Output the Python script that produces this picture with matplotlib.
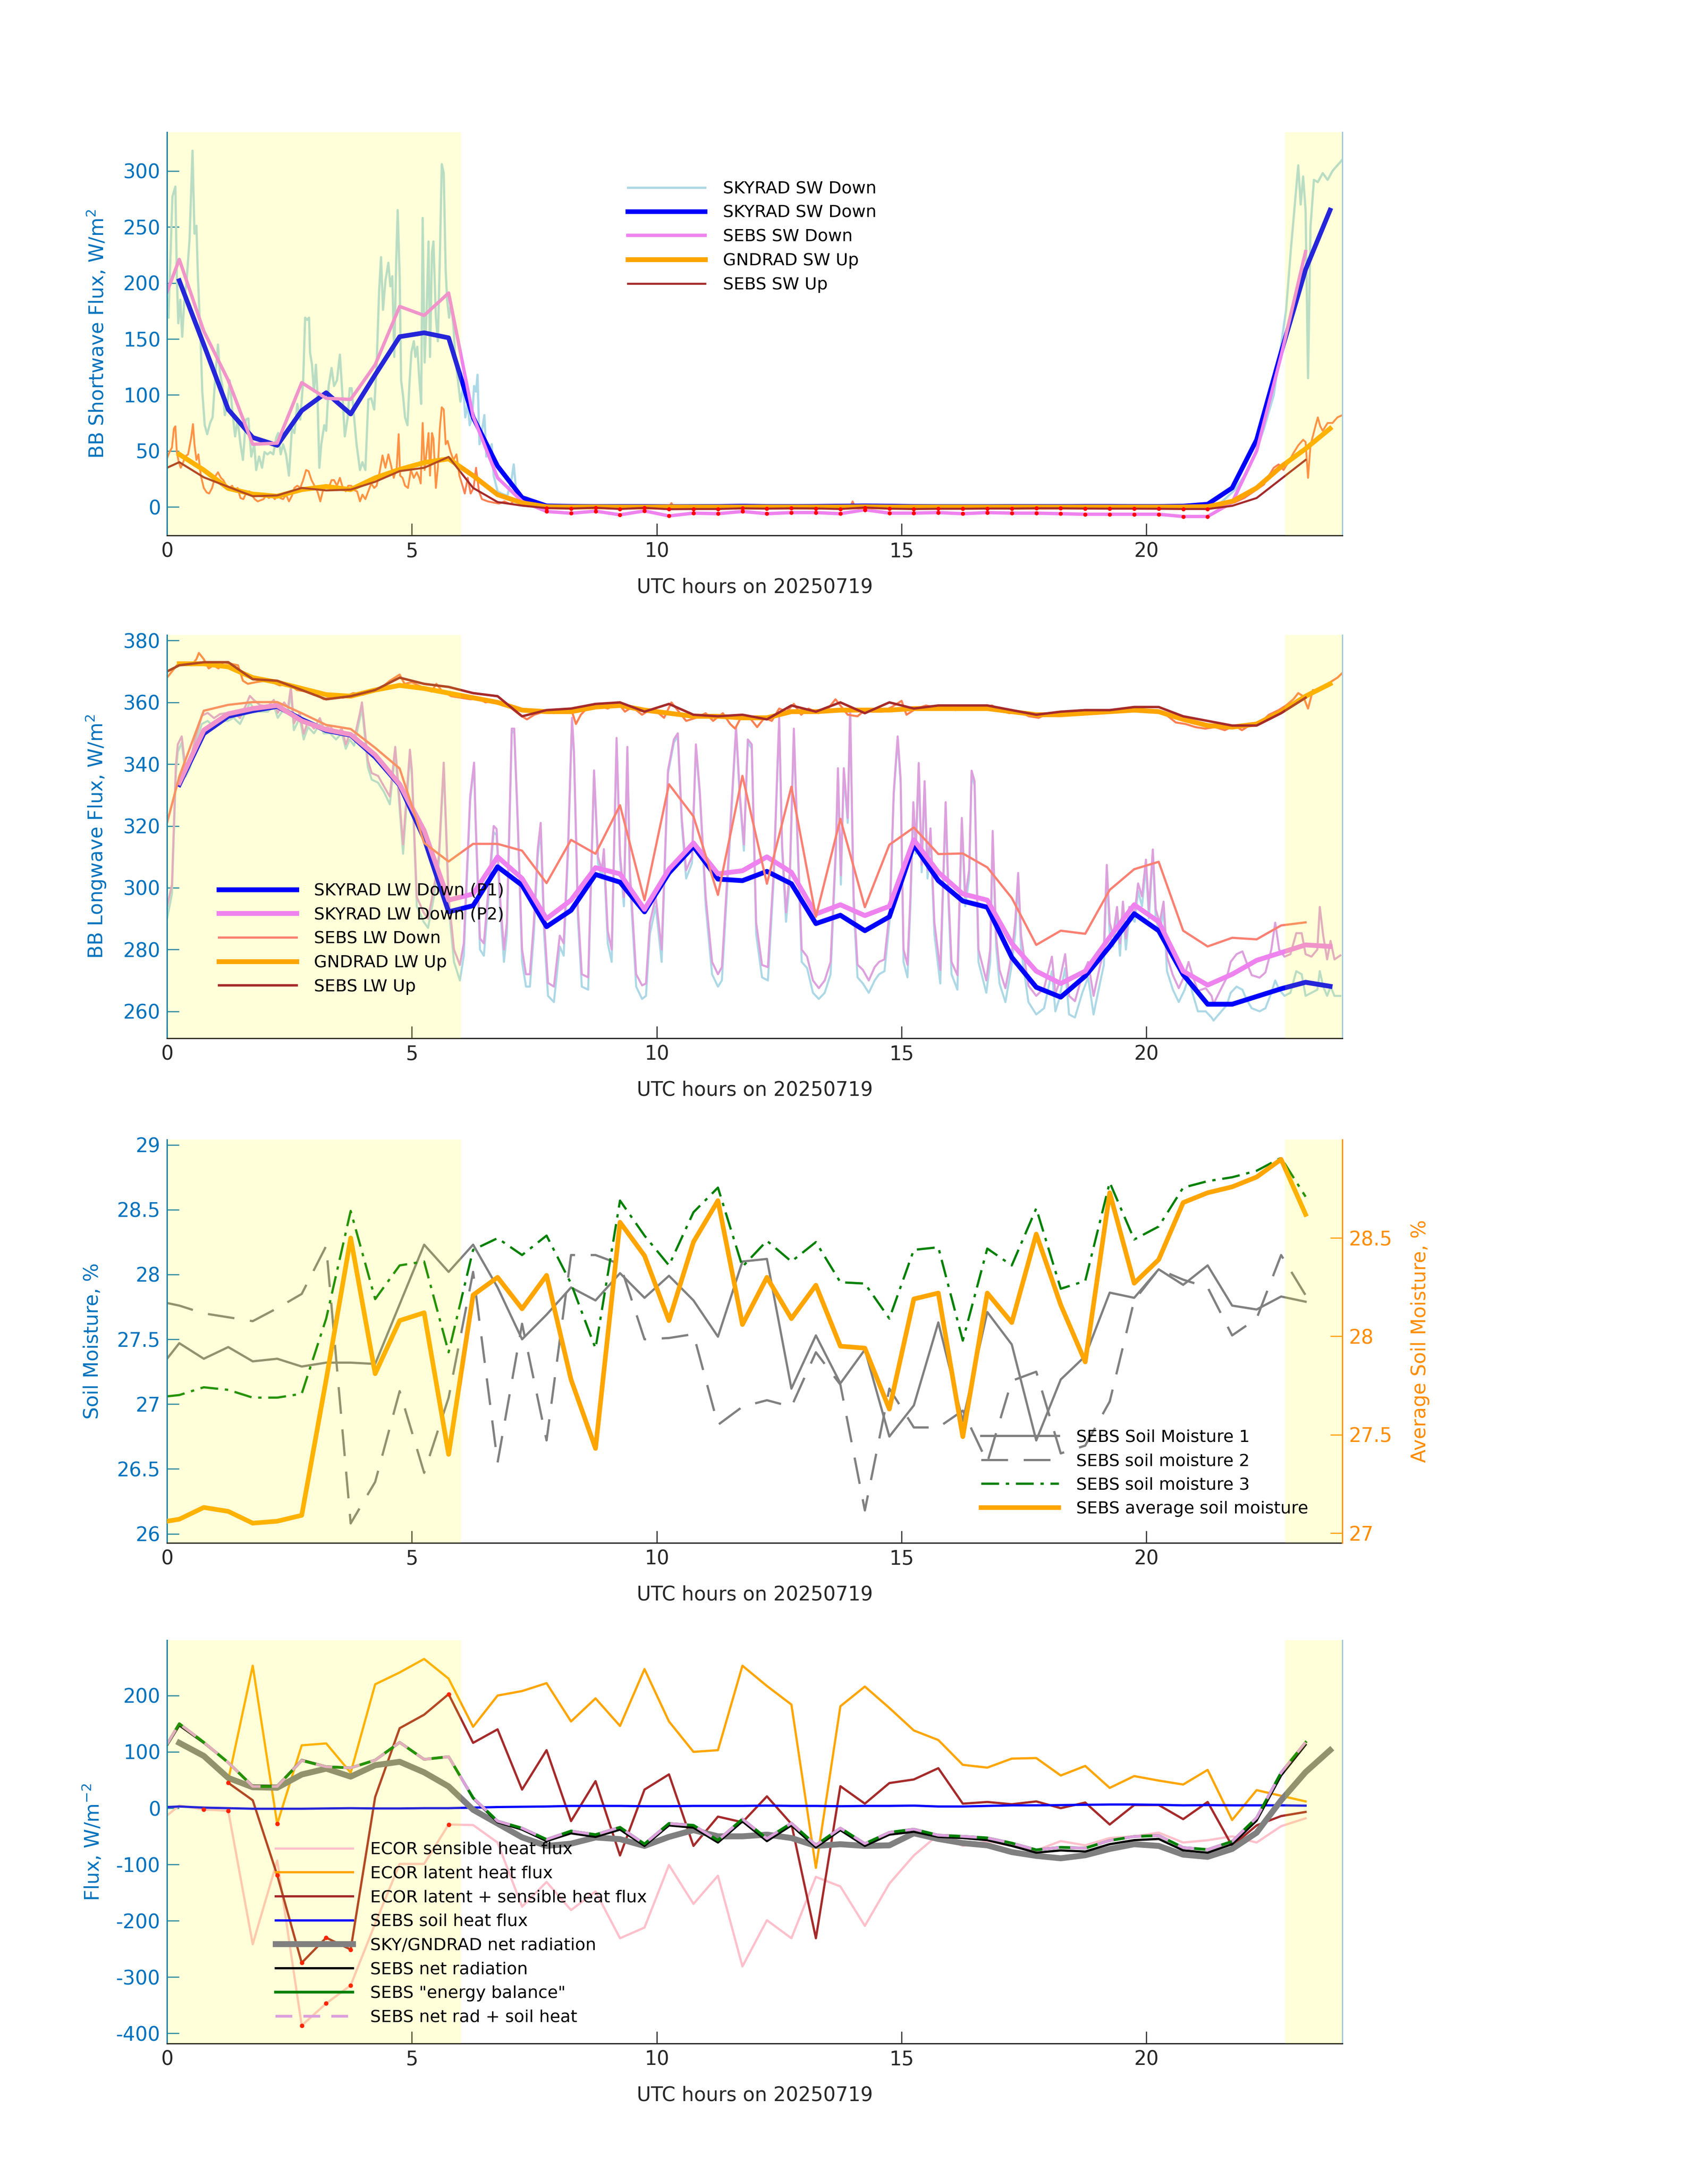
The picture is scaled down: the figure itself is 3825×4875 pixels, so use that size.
import numpy as np
import matplotlib
matplotlib.use('Agg')
import matplotlib.pyplot as plt
from matplotlib.ticker import FuncFormatter

plt.rcParams['font.family'] = ['DejaVu Sans']

# ---------------- time bases ----------------
t30 = [0.25, 0.75, 1.25, 1.75, 2.25, 2.75, 3.25, 3.75, 4.25, 4.75, 5.25, 5.75,
       6.25, 6.75, 7.25, 7.75, 8.25, 8.75, 9.25, 9.75, 10.25, 10.75, 11.25, 11.75,
       12.25, 12.75, 13.25, 13.75, 14.25, 14.75, 15.25, 15.75, 16.25, 16.75, 17.25, 17.75,
       18.25, 18.75, 19.25, 19.75, 20.25, 20.75, 21.25, 21.75, 22.25, 22.75, 23.25, 23.75]
tsebs = [0.0, 0.25, 0.75, 1.25, 1.75, 2.25, 2.75, 3.25, 3.75, 4.25, 4.75, 5.25,
         5.75, 6.25, 6.75, 7.25, 7.75, 8.25, 8.75, 9.25, 9.75, 10.25, 10.75, 11.25,
         11.75, 12.25, 12.75, 13.25, 13.75, 14.25, 14.75, 15.25, 15.75, 16.25, 16.75, 17.25,
         17.75, 18.25, 18.75, 19.25, 19.75, 20.25, 20.75, 21.25, 21.75, 22.25, 22.75, 23.25]
night_spans = [(0.0, 6.0), (22.83, 24.0)]

# ---------------- panel 1: shortwave ----------------
skyrad_sw_dn_1min = [
    (0.00, 185), (0.03, 169), (0.05, 197), (0.11, 277), (0.17, 286), (0.20, 206), (0.23, 164),
    (0.27, 185), (0.31, 152), (0.35, 183), (0.40, 202), (0.46, 239), (0.52, 318), (0.56, 244),
    (0.60, 251), (0.63, 206), (0.68, 155), (0.72, 103), (0.77, 73), (0.82, 65), (0.88, 75),
    (0.93, 80), (0.98, 113), (1.04, 145), (1.08, 120), (1.13, 108), (1.18, 82), (1.24, 94),
    (1.28, 113), (1.33, 87), (1.39, 63), (1.44, 78), (1.50, 56), (1.55, 42), (1.61, 78),
    (1.66, 79), (1.72, 45), (1.78, 56), (1.82, 33), (1.88, 45), (1.94, 35), (1.99, 49),
    (2.05, 47), (2.11, 49), (2.17, 47), (2.23, 62), (2.27, 66), (2.32, 47), (2.37, 56),
    (2.43, 47), (2.49, 28), (2.55, 70), (2.60, 66), (2.66, 92), (2.72, 78), (2.78, 113),
    (2.82, 169), (2.86, 167), (2.90, 169), (2.92, 138), (2.96, 127), (3.00, 103), (3.04, 127),
    (3.07, 103), (3.11, 35), (3.15, 56), (3.21, 73), (3.25, 68), (3.30, 108), (3.36, 124),
    (3.41, 108), (3.47, 113), (3.53, 136), (3.58, 101), (3.63, 63), (3.69, 80), (3.73, 106),
    (3.77, 106), (3.81, 85), (3.87, 56), (3.94, 33), (3.99, 40), (4.05, 33), (4.11, 96),
    (4.17, 97), (4.23, 87), (4.28, 127), (4.33, 192), (4.37, 223), (4.41, 176), (4.46, 202),
    (4.52, 218), (4.56, 197), (4.60, 206), (4.64, 134), (4.68, 220), (4.71, 265), (4.75, 206),
    (4.78, 113), (4.82, 99), (4.86, 80), (4.91, 73), (4.95, 110), (4.99, 138), (5.04, 148),
    (5.07, 134), (5.11, 143), (5.15, 115), (5.19, 92), (5.22, 258), (5.26, 129), (5.30, 174),
    (5.34, 237), (5.37, 134), (5.41, 227), (5.44, 237), (5.49, 169), (5.53, 148), (5.57, 220),
    (5.61, 306), (5.65, 298), (5.69, 211), (5.72, 185), (5.76, 169), (5.80, 183), (5.85, 160),
    (5.89, 131), (5.94, 113), (5.99, 94), (6.05, 108), (6.09, 80), (6.14, 92), (6.18, 73),
    (6.23, 80), (6.27, 108), (6.31, 103), (6.34, 118), (6.38, 56), (6.43, 68), (6.48, 82),
    (6.52, 45), (6.58, 49), (6.63, 56), (6.67, 28), (6.75, 14), (6.83, 12), (6.95, 10),
    (7.04, 26), (7.08, 38), (7.13, 14), (7.21, 5), (7.36, 2), (7.65, 1), (8.0, 0.6),
    (10.0, 0.5), (12.0, 0.5), (13.95, 0.5), (14.0, 1.5), (14.05, 0.5), (16.0, 0.4), (18.0, 0.5),
    (20.0, 0.5), (21.0, 0.8), (21.5, 3), (21.8, 15), (22.0, 28), (22.2, 45), (22.4, 70),
    (22.6, 100), (22.7, 130), (22.85, 175), (22.95, 230), (23.05, 280), (23.1, 305), (23.15, 270),
    (23.2, 295), (23.25, 265), (23.3, 115), (23.35, 250), (23.42, 292), (23.5, 290), (23.6, 298),
    (23.7, 292), (23.8, 300), (23.9, 305), (24.0, 310)]

gndrad_sw_up_1min = [
    (0.0, 43.6), (0.05, 49), (0.10, 53), (0.14, 70), (0.17, 72), (0.20, 49), (0.24, 40),
    (0.28, 35), (0.33, 40), (0.37, 45), (0.43, 47), (0.49, 61), (0.53, 74), (0.56, 56),
    (0.60, 42), (0.64, 47), (0.69, 28), (0.75, 17), (0.81, 13), (0.86, 12), (0.92, 17),
    (0.98, 27), (1.04, 31), (1.10, 26), (1.15, 24), (1.21, 19), (1.27, 17), (1.33, 19),
    (1.39, 14), (1.44, 17), (1.50, 8), (1.56, 7), (1.62, 13), (1.68, 14), (1.73, 11),
    (1.79, 7), (1.85, 5), (1.91, 6), (1.97, 7), (2.02, 10), (2.08, 8), (2.14, 10), (2.20, 7),
    (2.26, 11), (2.31, 8), (2.37, 7), (2.43, 11), (2.49, 5), (2.55, 10), (2.60, 17), (2.66, 19),
    (2.72, 17), (2.78, 24), (2.84, 33), (2.89, 32), (2.95, 24), (3.01, 19), (3.07, 14),
    (3.13, 5), (3.18, 14), (3.24, 19), (3.30, 17), (3.36, 24), (3.41, 24), (3.47, 19),
    (3.53, 26), (3.59, 17), (3.65, 14), (3.70, 19), (3.76, 19), (3.82, 15), (3.88, 14),
    (3.94, 5), (3.99, 11), (4.05, 7), (4.11, 14), (4.17, 21), (4.23, 17), (4.28, 19),
    (4.34, 31), (4.40, 46), (4.46, 35), (4.52, 47), (4.57, 38), (4.63, 26), (4.69, 35),
    (4.73, 65), (4.76, 28), (4.81, 26), (4.86, 19), (4.92, 17), (4.98, 33), (5.04, 26),
    (5.10, 31), (5.15, 26), (5.18, 21), (5.22, 75), (5.26, 33), (5.30, 49), (5.34, 66),
    (5.37, 28), (5.41, 66), (5.44, 61), (5.49, 17), (5.53, 35), (5.57, 70), (5.61, 89),
    (5.65, 87), (5.69, 56), (5.73, 59), (5.79, 49), (5.85, 42), (5.91, 47), (5.97, 28),
    (6.02, 21), (6.08, 12), (6.14, 26), (6.20, 12), (6.26, 17), (6.31, 35), (6.37, 14),
    (6.43, 7), (6.55, 5), (6.66, 4), (6.78, 3), (6.89, 5), (7.01, 2.6), (7.13, 7), (7.24, 2),
    (7.47, 1), (7.70, 0.2), (10.25, 0), (10.3, 3.5), (10.35, 0), (13.95, 0), (14.0, 5),
    (14.05, 0), (21.0, 0), (21.5, 1), (21.8, 4), (22.0, 8), (22.2, 14), (22.4, 20), (22.5, 28),
    (22.6, 35), (22.7, 38), (22.8, 33), (22.9, 40), (23.0, 48), (23.1, 55), (23.2, 60),
    (23.25, 58), (23.3, 26), (23.35, 55), (23.45, 72), (23.5, 80), (23.55, 72), (23.6, 68),
    (23.7, 75), (23.8, 75), (23.9, 80), (24.0, 82)]

skyrad_sw_dn = [202, 145, 87, 62, 55, 86, 102, 83, 118, 152, 155.5, 151,
                80, 36.5, 8.4, 1, 0.6, 0.5, 0.5, 0.5, 0.4, 0.4, 0.5, 0.8,
                0.5, 0.5, 0.6, 0.8, 1.0, 0.8, 0.5, 0.4, 0.4, 0.4, 0.5, 0.5,
                0.5, 0.6, 0.6, 0.5, 0.5, 0.8, 2.5, 17, 60, 138, 212, 265]
sebs_sw_dn = [192, 221, 157, 113, 56, 57, 111, 97, 96, 127, 179, 171,
              191, 81, 26, 5, -4, -5.6, -3.7, -7, -3.5, -8, -5.5, -6,
              -4, -6, -5, -5, -6, -2.5, -5.5, -5.5, -5, -6, -5, -5.5,
              -5.5, -6, -6.5, -6.5, -6.5, -6.5, -8.5, -8.5, 4, 50, 135, 228]
gndrad_sw_up = [47, 33, 16.6, 11.5, 9.6, 15.5, 18.3, 15.5, 26, 33.5, 39.6, 43,
                28, 11, 3.7, 0.2, 0, 0.1, 0, 0, 0.1, 0, 0, 0,
                0, 0, 0, 0, 0.2, 0, 0, 0, 0, 0, 0, 0,
                0, 0, 0, 0, 0, 0, 0.3, 5, 17, 36, 52, 70]
sebs_sw_up = [35, 40, 26.5, 18, 9.6, 10.3, 17, 14.8, 15.5, 22.5, 32, 35,
              44.7, 17, 4.4, 1.2, -1, -1.4, -0.7, -1.8, -0.8, -2, -1.8, -1.8,
              -1.2, -1.5, -1.2, -1.3, -1.8, -0.5, -1.5, -1.8, -1.6, -1.6, -1.4, -1.4,
              -1.2, -1.2, -1.4, -1.5, -1.5, -1.6, -1.8, -1.8, 1, 8, 25, 42]

# ---------------- panel 2: longwave ----------------
lw_1min_t = [
    0.00, 0.10, 0.18, 0.22, 0.30, 0.38, 0.47, 0.59, 0.71, 0.83, 0.96, 1.08, 1.24, 1.36, 1.49,
    1.61, 1.69, 1.77, 1.90, 2.06, 2.18, 2.26, 2.39, 2.47, 2.53, 2.59, 2.71, 2.79, 2.88, 3.00,
    3.12, 3.20, 3.33, 3.45, 3.57, 3.65, 3.73, 3.82, 3.94, 3.98, 4.02, 4.10, 4.18, 4.31, 4.43,
    4.55, 4.66, 4.82, 4.96, 5.00, 5.10, 5.24, 5.33, 5.45, 5.55, 5.65, 5.70, 5.75, 5.86, 5.98,
    6.06, 6.19, 6.27, 6.30, 6.39, 6.47, 6.55, 6.67, 6.73, 6.80, 6.88, 6.94, 7.04, 7.09, 7.16,
    7.25, 7.33, 7.41, 7.49, 7.57, 7.63, 7.70, 7.78, 7.90, 8.02, 8.10, 8.19, 8.27, 8.31, 8.39,
    8.47, 8.60, 8.72, 8.80, 8.88, 8.92, 9.00, 9.08, 9.18, 9.25, 9.33, 9.40, 9.45, 9.58, 9.70,
    9.78, 9.86, 9.98, 10.10, 10.23, 10.35, 10.43, 10.51, 10.60, 10.72, 10.80, 10.88, 11.00, 11.13, 11.25,
    11.33, 11.45, 11.62, 11.70, 11.78, 11.86, 11.94, 12.03, 12.15, 12.27, 12.39, 12.50, 12.56, 12.64, 12.72,
    12.80, 12.86, 12.96, 13.07, 13.19, 13.31, 13.43, 13.55, 13.66, 13.70, 13.76, 13.82, 13.90, 13.95, 14.02,
    14.10, 14.21, 14.33, 14.45, 14.54, 14.65, 14.76, 14.84, 14.92, 14.98, 15.04, 15.12, 15.18, 15.24, 15.29,
    15.35, 15.41, 15.47, 15.53, 15.59, 15.67, 15.79, 15.90, 15.96, 16.02, 16.14, 16.23, 16.30, 16.38, 16.43,
    16.49, 16.57, 16.73, 16.81, 16.86, 16.93, 17.00, 17.12, 17.24, 17.32, 17.38, 17.44, 17.59, 17.75, 17.91,
    18.07, 18.14, 18.22, 18.34, 18.42, 18.54, 18.69, 18.81, 18.92, 19.01, 19.13, 19.19, 19.25, 19.32, 19.40,
    19.46, 19.52, 19.58, 19.65, 19.76, 19.83, 19.91, 19.99, 20.05, 20.13, 20.19, 20.27, 20.35, 20.42, 20.54,
    20.66, 20.78, 20.86, 20.94, 21.05, 21.21, 21.33, 21.37, 21.53, 21.64, 21.72, 21.84, 21.96, 22.04, 22.15,
    22.31, 22.43, 22.55, 22.63, 22.71, 22.82, 22.94, 23.06, 23.17, 23.25, 23.37, 23.49, 23.54, 23.61, 23.69,
    23.76, 23.84, 23.96]
skyrad_lw_p2_1min = [
    293.8, 301, 339.6, 346.4, 349, 338, 341.3, 349, 355.7, 356.6, 354.9, 356.2, 356.6, 357, 354.9,
    359.1, 362.1, 360.8, 359.1, 358.7, 360.8, 356.6, 360, 358.3, 365, 353.2, 356.6, 349.8, 354, 351.5,
    354.9, 351.5, 352.3, 349.8, 351.5, 346.4, 349.8, 348.1, 356.6, 360, 354, 341.3, 337.1, 336.2, 332.8,
    329.5, 345.6, 314, 344.7, 338, 297, 292, 290, 300, 310, 340.5, 319, 297, 280, 275,
    282, 329.5, 340.5, 322.7, 283.6, 282, 297, 320, 319, 297, 280, 288.7, 351.5, 351.5, 322.7,
    280, 272, 272, 288.7, 312.5, 321, 288.7, 269.2, 268, 284.5, 282, 314, 355, 344, 293,
    272, 271, 338, 310, 305.7, 312.5, 286, 280, 348.5, 311, 297, 345.6, 305.7, 272, 268.4,
    269, 288.7, 297, 280, 338, 348, 350, 322.7, 305.7, 310, 346.4, 331, 297, 276, 272,
    274.3, 305.7, 352, 329.5, 314, 348, 346.4, 288.7, 275, 274.3, 305.7, 355, 314, 292, 305.7,
    351.5, 322.6, 280, 277.7, 270, 267.5, 270, 276, 314, 338.7, 304, 338.7, 322.6, 358.3, 297,
    275.1, 273.4, 270, 274.3, 276, 276.8, 293, 331, 349, 335.4, 280, 275.1, 297, 327.7, 313.3,
    340.4, 307.4, 334.5, 305.7, 319.2, 288.7, 273.4, 327.7, 297, 276, 271.7, 322.6, 297, 305.7, 337.9,
    334.5, 280, 270, 280, 318.4, 284.5, 273.4, 267.5, 277.7, 288.7, 304.8, 284.5, 268.3, 265, 267.5,
    277.7, 265.8, 269.2, 278.5, 265, 263.3, 271.7, 276, 265, 271.7, 280, 307.4, 288.7, 284.5, 293.8,
    282, 295.5, 283.6, 293.8, 292, 301.4, 297.2, 309.1, 293, 312.4, 293, 288.7, 295.5, 277.7, 271.7,
    267.5, 271.7, 276, 271.7, 266.6, 267.5, 265, 262.4, 267.5, 270.9, 276, 278.5, 279.4, 276, 271.7,
    270.9, 272.6, 280, 288.7, 280, 277.7, 278.5, 285.3, 285.3, 278.5, 277.7, 280, 293.8, 284.5, 276.8,
    282.8, 276.8, 278.1]
skyrad_lw_p1_1min = [
    290, 298, 337, 344, 347, 336, 339, 347, 353, 354, 352, 354, 354, 355, 353,
    357, 360, 358, 357, 357, 359, 355, 358, 357, 363, 351, 355, 348, 352, 350,
    353, 350, 350, 348, 350, 345, 348, 346, 355, 358, 352, 339, 335, 334, 331,
    327, 344, 311, 343, 336, 294, 289, 287, 297, 308, 339, 317, 294, 276, 270,
    278, 328, 340, 321, 280, 278, 294, 318, 317, 294, 276, 285, 351, 350, 321,
    276, 268, 268, 285, 310, 319, 285, 265, 263, 281, 278, 312, 354, 343, 290,
    268, 267, 337, 308, 303, 310, 282, 276, 347, 309, 294, 344, 303, 268, 264,
    265, 285, 294, 276, 337, 347, 349, 321, 303, 308, 345, 330, 294, 272, 268,
    270, 303, 351, 328, 312, 347, 345, 285, 271, 270, 303, 354, 312, 289, 303,
    350, 321, 276, 274, 266, 264, 266, 272, 312, 337, 301, 337, 321, 357, 294,
    271, 269, 266, 270, 272, 273, 290, 330, 348, 334, 276, 271, 294, 326, 311,
    339, 305, 333, 303, 317, 285, 269, 326, 294, 272, 267, 321, 294, 303, 337,
    333, 276, 266, 276, 316, 281, 269, 263, 274, 285, 302, 280, 263, 259, 261,
    273, 260, 264, 274, 259, 258, 266, 271, 259, 266, 275, 305, 285, 281, 291,
    278, 293, 280, 291, 289, 299, 294, 307, 290, 311, 290, 285, 293, 273, 267,
    263, 267, 271, 266, 260, 260, 258, 257, 260, 262, 266, 268, 267, 264, 261,
    260, 261, 266, 270, 267, 265, 266, 273, 272, 265, 266, 267, 273, 268, 265,
    268, 265, 265]

gndrad_lw_up_1min = [
    (0.0, 368), (0.1, 370), (0.2, 372), (0.35, 373), (0.5, 372), (0.6, 374), (0.65, 376),
    (0.75, 374), (0.85, 371), (0.95, 372), (1.05, 371), (1.15, 373), (1.3, 372.5), (1.45, 372),
    (1.55, 367), (1.65, 366), (1.8, 366.5), (2.0, 367), (2.15, 366.5), (2.3, 365.5), (2.5, 366),
    (2.65, 364), (2.85, 363.5), (3.0, 363), (3.2, 361), (3.4, 362), (3.6, 361.5), (3.8, 363),
    (4.0, 362.5), (4.2, 363.5), (4.4, 365), (4.55, 367), (4.65, 368), (4.75, 369), (4.85, 366),
    (5.0, 366.5), (5.2, 365), (5.4, 363.5), (5.5, 366), (5.6, 364), (5.8, 362), (6.0, 361.5),
    (6.2, 361), (6.35, 361.5), (6.5, 360), (6.7, 360.5), (6.85, 359), (7.0, 358.5), (7.2, 356),
    (7.35, 354.5), (7.5, 356), (7.7, 357), (7.9, 356.5), (8.1, 357.5), (8.25, 358), (8.35, 353),
    (8.45, 356), (8.6, 358.5), (8.8, 359), (9.0, 358), (9.2, 360), (9.35, 357), (9.5, 358.5),
    (9.7, 356), (9.85, 357.5), (10.0, 357), (10.15, 355), (10.3, 360), (10.45, 357), (10.6, 354),
    (10.8, 355), (11.0, 356.5), (11.15, 354), (11.35, 356.5), (11.5, 353), (11.6, 351.5),
    (11.75, 356), (11.9, 355), (12.05, 352), (12.2, 355), (12.35, 354), (12.5, 358), (12.65, 357),
    (12.8, 359.5), (12.95, 356), (13.1, 358), (13.3, 356.5), (13.5, 358), (13.65, 361),
    (13.75, 359), (13.9, 356), (14.1, 355.5), (14.25, 357.5), (14.4, 357), (14.6, 357),
    (14.8, 358.5), (14.9, 359.5), (15.0, 360.5), (15.1, 356), (15.3, 358), (15.5, 359),
    (15.75, 358), (15.9, 359), (16.1, 357.5), (16.3, 358.5), (16.5, 358), (16.7, 358.5),
    (16.85, 359), (17.0, 357.5), (17.2, 356.5), (17.4, 357), (17.6, 355.5), (17.8, 355),
    (18.0, 356.5), (18.2, 355.5), (18.4, 356), (18.6, 356.5), (18.8, 357.5), (19.0, 356.5),
    (19.2, 357.5), (19.4, 357), (19.6, 357.5), (19.8, 358), (20.0, 357), (20.2, 357.5),
    (20.4, 356), (20.6, 353.5), (20.8, 353), (21.0, 352), (21.2, 351.5), (21.4, 352), (21.6, 351),
    (21.8, 352.5), (21.95, 351), (22.1, 352.5), (22.3, 353), (22.5, 356), (22.7, 357.5),
    (22.85, 359), (23.0, 361), (23.1, 363), (23.2, 362), (23.3, 358), (23.4, 364), (23.5, 363.5),
    (23.6, 365), (23.7, 366), (23.8, 367), (23.9, 368), (24.0, 369.5)]

skyrad_lw_p1 = [333.4, 349.9, 355.5, 357.3, 358.7, 354.5, 350.9, 349.4, 342.3, 333.2, 316, 292.2,
                294.2, 306.8, 300.8, 287.4, 292.7, 304.3, 301.8, 292.2, 304.8, 313.4, 302.8, 302.3,
                305.3, 301.3, 288.4, 291.1, 286.1, 290.6, 313.9, 302.3, 295.7, 293.7, 277.5, 267.8,
                264.6, 271.4, 281, 291.6, 286.1, 271.9, 262.3, 262.3, 264.8, 267.3, 269.4, 268.1]
skyrad_lw_p2 = [334, 351, 356.3, 358, 359, 354, 351.2, 349.6, 343, 333.5, 318.5, 296,
                298, 310, 303, 290, 296, 306.5, 304.5, 293, 306, 314.5, 304.5, 305.5,
                310, 305, 291.5, 294.5, 291, 294, 315.5, 305, 298, 296, 282, 273,
                269, 273, 284, 294.5, 289, 273, 268.5, 272, 276.5, 279, 281.5, 281]
sebs_lw_dn = [321, 336, 357.3, 359.2, 360.1, 360.1, 356.5, 352.7, 351.4, 345.3, 338.6, 314.5,
              308.5, 314.2, 314.2, 312, 301.5, 315.5, 311, 326.7, 296, 333.5, 323.1, 297.7,
              336.2, 301.3, 332.7, 290.6, 322.3, 293.7, 313.9, 319.5, 310.9, 311.1, 306.6, 296.7,
              281.5, 286.1, 285.1, 299.3, 306, 308.4, 286.1, 281, 283.8, 283.3, 287.8, 288.8]
gndrad_lw_up = [372.5, 372.5, 371.5, 368, 366.5, 364.5, 362.5, 362, 364, 365.5, 364.5, 363,
                361.5, 360, 357.5, 357, 357, 358.5, 359, 357.5, 356.5, 355.5, 355.5, 355,
                355, 357, 357, 357.5, 357.5, 357.5, 358, 358, 358, 358, 357, 356,
                356, 356.5, 357, 357.5, 357, 354.5, 352.5, 352, 353, 357, 362, 366]
sebs_lw_up = [370, 372, 373, 373, 367.5, 367, 364, 361, 362, 364, 368, 366,
              365, 363, 362, 355.5, 357.5, 358, 359.5, 360, 357, 359.5, 356, 355.5,
              356, 354.5, 359, 357, 360, 356.5, 360, 358, 359, 359, 359, 357.5,
              356, 357, 357.5, 357.5, 358.5, 358.5, 355.5, 354, 352.5, 352.5, 356.5, 361.5]

# ---------------- panel 3: soil moisture ----------------
soil_m1 = [27.35, 27.47, 27.35, 27.44, 27.33, 27.35, 27.29, 27.32, 27.32, 27.31, 27.77, 28.23,
           28.02, 28.23, 27.9, 27.5, 27.69, 27.9, 27.8, 28.01, 27.82, 27.99, 27.8, 27.52,
           28.1, 28.12, 27.12, 27.53, 27.16, 27.42, 26.75, 26.99, 27.63, 26.87, 27.71, 27.46,
           26.72, 27.19, 27.37, 27.86, 27.82, 28.04, 27.92, 28.07, 27.76, 27.73, 27.83, 27.79]
soil_m2 = [27.78, 27.76, 27.7, 27.67, 27.64, 27.74, 27.85, 28.22, 26.08, 26.4, 27.1, 26.47,
           27.05, 28.02, 26.55, 27.62, 26.72, 28.15, 28.15, 28.08, 27.5, 27.51, 27.54, 26.84,
           26.98, 27.03, 26.98, 27.4, 27.15, 26.18, 27.12, 26.82, 26.82, 26.95, 26.55, 27.18,
           27.25, 26.62, 26.68, 27.02, 27.8, 28.04, 27.96, 27.9, 27.53, 27.66, 28.15, 27.84]
soil_m3 = [27.06, 27.07, 27.13, 27.11, 27.05, 27.05, 27.08, 27.66, 28.49, 27.81, 28.07, 28.1,
           27.4, 28.19, 28.28, 28.15, 28.3, 27.93, 27.43, 28.57, 28.3, 28.07, 28.48, 28.67,
           28.06, 28.26, 28.1, 28.25, 27.94, 27.93, 27.66, 28.19, 28.21, 27.49, 28.2, 28.07,
           28.51, 27.89, 27.95, 28.71, 28.27, 28.37, 28.67, 28.72, 28.75, 28.8, 28.9, 28.6]
soil_avg = [27.06, 27.07, 27.13, 27.11, 27.05, 27.06, 27.09, 27.78, 28.5, 27.81, 28.08, 28.12,
            27.4, 28.21, 28.3, 28.14, 28.31, 27.78, 27.43, 28.58, 28.41, 28.08, 28.48, 28.69,
            28.06, 28.3, 28.09, 28.26, 27.95, 27.94, 27.63, 28.19, 28.22, 27.49, 28.22, 28.07,
            28.52, 28.16, 27.87, 28.73, 28.27, 28.39, 28.68, 28.73, 28.76, 28.81, 28.9, 28.62]

# ---------------- panel 4: surface energy fluxes ----------------
nan = float('nan')
ecor_sensible = [-13, 4.7, -2.4, -4.7, -241.6, -93, -386, -346.7, -314.6, -205, -99, -99,
                 -29, -30, -61, -175, -131, -181, -148, -231, -212, -101, -170, -120,
                 -281, -199, -231, -122, -139, -209, -134, -84, -47, -67, -58.5, -67,
                 -75, -58.5, -66, -53, -50, -43.5, -61, -57, -50, -61, -32, -18]
ecor_latent = [nan, nan, nan, 50, 253, -28, 111.6, 115, 63, 220, 241, 265,
               230, 144.6, 200, 208, 222, 154, 195, 146, 247, 154, 100, 103,
               253, 217, 184, -106, 181, 216, 178, 138, 121, 77, 72, 88,
               89, 58, 75, 36, 57, 49, 42, 68, -21, 32, 22, 12]
ecor_lat_sens = [nan, nan, nan, 45, 14, -119, -274.6, -230, -251, 19.8, 142, 166,
                 202.5, 116, 140, 33, 103, -23, 48, -84, 33, 60, -67, -15,
                 -25, 21, -28, -231, 39, 8, 44.6, 51, 71, 8, 11, 7,
                 12, 0, 10, -29, 5.6, 5.6, -19.5, 11, -67, -30.6, -14, -6.7]
sebs_soil_heat = [2, 3, 1, 0, -1, -1, -1, -0.5, 0, -0.5, -0.5, 0,
                  0, 1, 2, 2.5, 3, 4, 4, 4, 3.5, 3.5, 4, 4,
                  4, 4.5, 4, 4, 3.5, 4, 4, 4.5, 3, 3, 4, 5,
                  5, 5.5, 6, 6.5, 6.5, 6, 5, 5.5, 5, 5, 5, 4.5]
skygnd_net_rad = [116, 92.8, 53.7, 37.2, 36.3, 59.8, 70.2, 56, 76.3, 82.4, 63.6, 38.6,
                  -2.8, -27.3, -51.8, -67, -63, -52, -55, -67, -51, -39, -50, -50,
                  -47, -53, -67, -64, -67, -66, -44.6, -54.6, -62, -66, -78, -84.7,
                  -89, -83.6, -72.4, -64, -67, -82.5, -86.4, -72.4, -43.5, 14, 64, 103]
sebs_net_rad = [111.6, 147, 116, 81, 39.6, 39.6, 85.7, 74, 71.6, 85.7, 117.3, 86.7,
                91.4, 17.4, -25, -38, -58.5, -44.6, -51, -38, -67, -30.6, -34.5, -61,
                -23.4, -58.5, -30.6, -69.6, -39, -67, -47, -41.8, -51, -53, -56.8, -67,
                -79, -75, -77, -64, -56.8, -54.6, -75, -79, -64, -22, 58, 112.5]
sebs_energy_balance = [113.6, 150, 117, 81, 38.6, 38.6, 84.7, 73.5, 71.6, 85.2, 116.8, 86.7,
                       91.4, 18.4, -23, -35.5, -55.5, -40.6, -47, -34, -63.5, -27.1, -30.5, -57,
                       -19.4, -54, -26.6, -65.6, -35.5, -63, -43, -37.3, -48, -50, -52.8, -62,
                       -74, -69.5, -71, -57.5, -50.3, -48.6, -70, -73.5, -59, -17, 63, 117]
sebs_netrad_plus_soil = [113.6, 150, 117, 81, 38.6, 38.6, 84.7, 73.5, 71.6, 85.2, 116.8, 86.7,
                         91.4, 18.4, -23, -35.5, -55.5, -40.6, -47, -34, -63.5, -27.1, -30.5, -57,
                         -19.4, -54, -26.6, -65.6, -35.5, -63, -43, -37.3, -48, -50, -52.8, -62,
                         -74, -69.5, -71, -57.5, -50.3, -48.6, -70, -73.5, -59, -17, 63, 117]
sens_flag_t = [0.75, 1.25, 2.75, 3.25, 3.75, 5.75]
lat_flag_t = [2.25]
latsens_flag_t = [1.25, 2.25, 2.75, 3.25, 3.75, 5.75]

# ---------------- styling helpers ----------------
AXBLUE = '#0072BD'
DARK = '#262626'
ORANGE_AX = '#FF8C00'
XLABEL = 'UTC hours on 20250719'
TICKFS = 10.5
LEGFS = 9.1

fig = plt.figure(figsize=(12.75, 16.25), dpi=300)
L, W, H = 0.0978, 0.6881, 0.1852
bottoms = [0.7541, 0.5231, 0.2913, 0.0613]
gfmt = FuncFormatter(lambda v, p: f'{v:g}')


def style(ax, ylabel, ylim, yticks, ylab_x=-0.052, right_color='#9CC8E6'):
    ax.set_xlim(0, 24)
    ax.set_ylim(*ylim)
    ax.set_xticks([0, 5, 10, 15, 20])
    ax.set_yticks(yticks)
    ax.yaxis.set_major_formatter(gfmt)
    ax.tick_params(axis='both', direction='in', length=6.5, width=0.6, labelsize=TICKFS)
    ax.tick_params(axis='y', colors=AXBLUE)
    ax.tick_params(axis='x', colors=DARK)
    ax.spines['top'].set_visible(False)
    ax.spines['left'].set_color(AXBLUE)
    ax.spines['bottom'].set_color(DARK)
    ax.spines['right'].set_color(right_color)
    for s in ax.spines.values():
        s.set_linewidth(0.7)
    ax.set_ylabel(ylabel, color=AXBLUE, fontsize=TICKFS)
    ax.yaxis.set_label_coords(ylab_x, 0.5)
    ax.set_xlabel(XLABEL, fontsize=TICKFS, color=DARK)
    ax.xaxis.set_label_coords(0.5, -0.105)


def shade(ax):
    for a, b in night_spans:
        ax.axvspan(a, b, color='yellow', alpha=0.15, lw=0, zorder=3)


def unzip(pairs):
    return [p[0] for p in pairs], [p[1] for p in pairs]


def legend(ax, handles, labels, anchor):
    lg = ax.legend(handles, labels, loc='upper left', bbox_to_anchor=anchor, frameon=False,
                   fontsize=LEGFS, handlelength=4.58, handletextpad=1.03, labelspacing=0.467,
                   borderpad=0, borderaxespad=0)
    lg.set_zorder(20)
    return lg


# ======== Panel 1 ========
ax1 = fig.add_axes([L, bottoms[0], W, H])
t, v = unzip(skyrad_sw_dn_1min)
h_l, = ax1.plot(t, v, color='lightblue', lw=1.2)
t, v = unzip(gndrad_sw_up_1min)
ax1.plot(t, v, color='coral', lw=1.0)
h_b, = ax1.plot(t30, skyrad_sw_dn, color='blue', lw=2.5)
h_p, = ax1.plot(tsebs, sebs_sw_dn, color='violet', lw=1.8)
h_o, = ax1.plot(t30, gndrad_sw_up, color='orange', lw=2.6)
h_r, = ax1.plot(tsebs, sebs_sw_up, color='brown', lw=1.1)
for ser in (sebs_sw_dn, sebs_sw_up):
    arr = np.array(ser, dtype=float)
    m = arr < 0
    ax1.plot(np.array(tsebs)[m], arr[m], 'o', color='red', ms=2.2, mec='none', zorder=2.6)
shade(ax1)
style(ax1, 'BB Shortwave Flux, W/m$^2$', (-25.3, 334.6), [0, 50, 100, 150, 200, 250, 300], ylab_x=-0.050)
legend(ax1, [h_l, h_b, h_p, h_o, h_r],
       ['SKYRAD SW Down', 'SKYRAD SW Down', 'SEBS SW Down', 'GNDRAD SW Up', 'SEBS SW Up'],
       (0.392, 0.879))

# ======== Panel 2 ========
ax2 = fig.add_axes([L, bottoms[1], W, H])
ax2.plot(lw_1min_t, skyrad_lw_p1_1min, color='lightblue', lw=1.1)
ax2.plot(lw_1min_t, skyrad_lw_p2_1min, color='plum', lw=1.1)
t, v = unzip(gndrad_lw_up_1min)
ax2.plot(t, v, color='coral', lw=1.1)
g_b, = ax2.plot(t30, skyrad_lw_p1, color='blue', lw=2.6)
g_p, = ax2.plot(t30, skyrad_lw_p2, color='violet', lw=2.6)
g_s, = ax2.plot(tsebs, sebs_lw_dn, color='salmon', lw=1.2)
g_o, = ax2.plot(t30, gndrad_lw_up, color='orange', lw=2.6)
g_r, = ax2.plot(tsebs, sebs_lw_up, color='brown', lw=1.3)
shade(ax2)
style(ax2, 'BB Longwave Flux, W/m$^2$', (251.3, 381.8), [260, 280, 300, 320, 340, 360, 380], ylab_x=-0.050)
legend(ax2, [g_b, g_p, g_s, g_o, g_r],
       ['SKYRAD LW Down (P1)', 'SKYRAD LW Down (P2)', 'SEBS LW Down', 'GNDRAD LW Up', 'SEBS LW Up'],
       (0.044, 0.3855))

# ======== Panel 3 ========
ax3 = fig.add_axes([L, bottoms[2], W, H])
s1, = ax3.plot(tsebs, soil_m1, color='gray', lw=1.2)
s2, = ax3.plot(tsebs, soil_m2, color='gray', lw=1.2, dashes=(12, 7))
s3, = ax3.plot(tsebs, soil_m3, color='green', lw=1.2, dashes=(8, 3, 1.5, 3))
style(ax3, 'Soil Moisture, %', (25.93, 29.04), [26, 26.5, 27, 27.5, 28, 28.5, 29], ylab_x=-0.055)
ax3.spines['right'].set_visible(False)
ax3b = ax3.twinx()
sa, = ax3b.plot(tsebs, soil_avg, color='orange', lw=2.5)
ax3b.set_ylim(26.95, 29.0)
ax3b.set_yticks([27, 27.5, 28, 28.5])
ax3b.yaxis.set_major_formatter(gfmt)
ax3b.tick_params(axis='y', direction='in', length=6.5, width=0.6, labelsize=TICKFS, colors=ORANGE_AX)
for sp in ('top', 'left', 'bottom'):
    ax3b.spines[sp].set_visible(False)
ax3b.spines['right'].set_color(ORANGE_AX)
ax3b.spines['right'].set_linewidth(0.7)
ax3b.set_ylabel('Average Soil Moisture, %', color=ORANGE_AX, fontsize=TICKFS)
ax3b.yaxis.set_label_coords(1.058, 0.5)
shade(ax3b)
legend(ax3b, [s1, s2, s3, sa],
       ['SEBS Soil Moisture 1', 'SEBS soil moisture 2', 'SEBS soil moisture 3', 'SEBS average soil moisture'],
       (0.6927, 0.282))

# ======== Panel 4 ========
ax4 = fig.add_axes([L, bottoms[3], W, H])
k1, = ax4.plot(tsebs, ecor_sensible, color='pink', lw=1.2)
k2, = ax4.plot(tsebs, ecor_latent, color='orange', lw=1.2)
k3, = ax4.plot(tsebs, ecor_lat_sens, color='brown', lw=1.2)
k4, = ax4.plot(tsebs, sebs_soil_heat, color='blue', lw=1.2)
k5, = ax4.plot(t30, skygnd_net_rad, color='gray', lw=3.2)
k6, = ax4.plot(tsebs, sebs_net_rad, color='black', lw=1.2)
k7, = ax4.plot(tsebs, sebs_energy_balance, color='green', lw=1.5)
k8, = ax4.plot(tsebs, sebs_netrad_plus_soil, color='plum', lw=1.5, dashes=(6, 4))
for ser, flags in ((ecor_sensible, sens_flag_t), (ecor_latent, lat_flag_t), (ecor_lat_sens, latsens_flag_t)):
    ft = [tt for tt in tsebs if tt in flags]
    fv = [ser[tsebs.index(tt)] for tt in ft]
    ax4.plot(ft, fv, 'o', color='red', ms=2.4, mec='none', zorder=2.6)
shade(ax4)
style(ax4, 'Flux, W/m$^{-2}$', (-418, 298), [-400, -300, -200, -100, 0, 100, 200], ylab_x=-0.054)
legend(ax4, [k1, k2, k3, k4, k5, k6, k7, k8],
       ['ECOR sensible heat flux', 'ECOR latent heat flux', 'ECOR latent + sensible heat flux',
        'SEBS soil heat flux', 'SKY/GNDRAD net radiation', 'SEBS net radiation',
        'SEBS "energy balance"', 'SEBS net rad + soil heat'],
       (0.0922, 0.501))

fig.savefig('out.png', dpi=300)
